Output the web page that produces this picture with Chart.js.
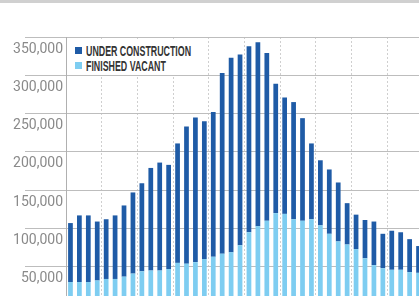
<!DOCTYPE html>
<html>
<head>
<meta charset="utf-8">
<script src="https://cdn.jsdelivr.net/npm/chart.js@4"></script>
<style>
    html, body { margin: 0; padding: 0; background: #fff; overflow: hidden; }
    #wrap { position: relative; width: 419px; height: 296px; overflow: hidden; }
    #topbar { position: absolute; left: 0; top: 0; width: 419px; height: 3px; background: #d0d0d0; }
    #chart { position: absolute; left: 0; top: 0; }
    #legend { position: absolute; left: 69px; top: 39px; width: 132px; height: 36px; background: #fff; }
    .swatch { position: absolute; left: 6px; width: 7px; height: 7px; }
    .label {
        position: absolute; left: 17px; white-space: nowrap;
        font-family: "Liberation Sans Narrow", "Liberation Sans", sans-serif;
        font-weight: bold; font-size: 15.5px; line-height: 15px; color: #333;
        transform: scaleX(0.57); transform-origin: 0 0;
    }
</style>
</head>
<body>
<div id="wrap">
    <canvas id="chart" width="440" height="320"></canvas>
    <div id="topbar"></div>
    <div id="legend">
        <div class="swatch" id="sw-uc" style="top: 8px;"></div>
        <div class="label" id="lb-uc" style="top: 4px;"></div>
        <div class="swatch" id="sw-fv" style="top: 23px;"></div>
        <div class="label" id="lb-fv" style="top: 19px;"></div>
    </div>
</div>
<script>
// quarterly categories
const years = [2001, 2002, 2003, 2004, 2005, 2006, 2007, 2008, 2009, 2010];
const quarters = [];
years.forEach(y => {
    for (let q = 1; q <= 4; q++) quarters.push('Q' + q + ' ' + y);
});

// series (units)
const finishedVacant = [
    30000, 30000, 30000, 32000, 34000, 34000, 37000, 41000, 44000, 45000,
    45000, 47000, 55000, 54000, 56000, 60000, 63000, 67000, 69000, 78000,
    95000, 103000, 110000, 120000, 119000, 112000, 110000, 112000, 104000, 93000,
    83000, 79000, 73000, 61000, 52000, 48000, 46000, 46000, 43000, 42000
];
const underConstruction = [
    77000, 87000, 87000, 77000, 78000, 83000, 93000, 106000, 115000, 134000,
    141000, 136000, 156000, 179000, 189000, 180000, 189000, 236000, 254000, 249000,
    243000, 240000, 219000, 169000, 152000, 153000, 134000, 99000, 85000, 84000,
    77000, 54000, 45000, 50000, 57000, 45000, 51000, 49000, 43000, 35000
];

const seriesNames = ['UNDER CONSTRUCTION', 'FINISHED VACANT'];
const yMin = 0;
const yMax = 350000;
const yStep = 50000;

document.addEventListener('DOMContentLoaded', function() {
    const darkBlue = '#1f5ba6';
    const lightBlue = '#7ecdf1';

    // html legend (white box sits over the grid)
    document.getElementById('sw-uc').style.background = darkBlue;
    document.getElementById('sw-fv').style.background = lightBlue;
    document.getElementById('lb-uc').textContent = seriesNames[0];
    document.getElementById('lb-fv').textContent = seriesNames[1];

    const ctx = document.getElementById('chart').getContext('2d');

    new Chart(ctx, {
        type: 'bar',
        data: {
            labels: quarters,
            datasets: [{
                label: seriesNames[1],
                data: finishedVacant,
                backgroundColor: lightBlue,
                barPercentage: 0.53,
                categoryPercentage: 1
            }, {
                label: seriesNames[0],
                data: underConstruction,
                backgroundColor: darkBlue,
                barPercentage: 0.53,
                categoryPercentage: 1
            }]
        },
        options: {
            responsive: false,
            animation: false,
            devicePixelRatio: 1,
            layout: {
                padding: { left: 0, right: 17, top: 37, bottom: 15 }
            },
            plugins: {
                legend: { display: false },
                tooltip: { enabled: false }
            },
            scales: {
                x: {
                    stacked: true,
                    offset: true,
                    ticks: { display: false },
                    border: { display: false, dash: [2, 2] },
                    grid: {
                        offset: true,
                        drawTicks: false,
                        lineWidth: 1,
                        color: c => (c.index > 0 && c.index % 4 === 0) ? '#cfcfcf' : 'rgba(0,0,0,0)'
                    },
                    afterFit: s => { s.height = 0; }
                },
                y: {
                    stacked: true,
                    min: yMin,
                    max: yMax,
                    border: { display: true, color: '#b0b0b0', width: 1 },
                    grid: {
                        color: '#bdbdbd',
                        lineWidth: 1,
                        drawTicks: true,
                        tickLength: 41
                    },
                    ticks: {
                        stepSize: yStep,
                        padding: -38,
                        labelOffset: 12,
                        color: '#8a8a8a',
                        font: { family: 'Roboto', size: 14 },
                        callback: v => v.toLocaleString('en-US')
                    },
                    afterFit: s => { s.width = 66; }
                }
            }
        }
    });
});
</script>
</body>
</html>
